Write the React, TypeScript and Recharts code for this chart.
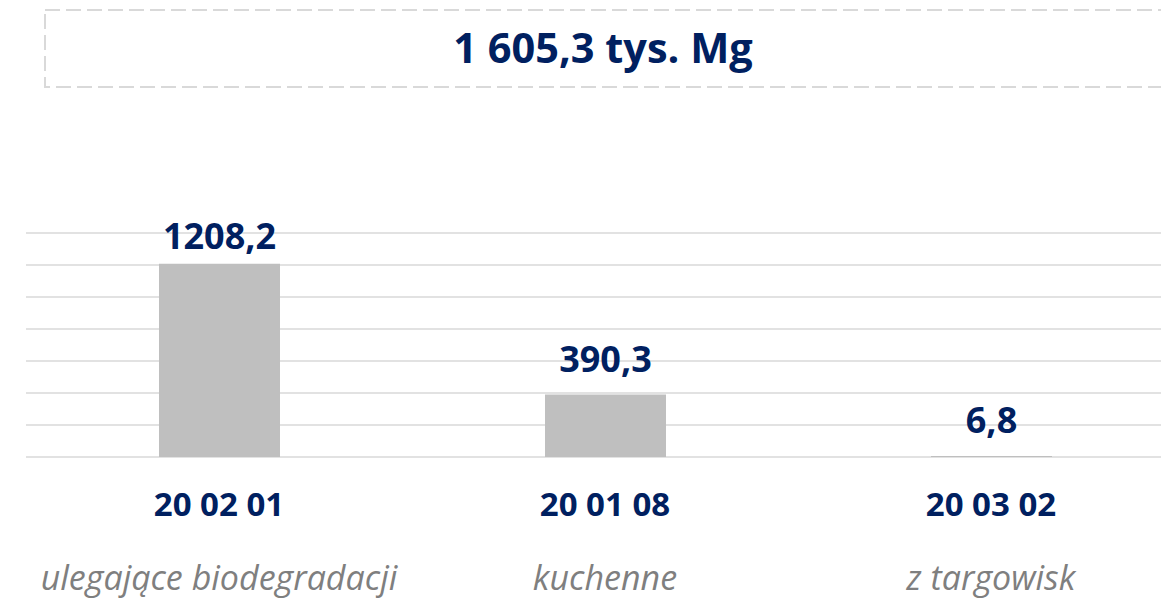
import React from "react";
import { BarChart, Bar, XAxis, YAxis, CartesianGrid, LabelList } from "recharts";

const codes = ["20 02 01", "20 01 08", "20 03 02"];
const names = ["ulegające biodegradacji", "kuchenne", "z targowisk"];
const values = [1208.2, 390.3, 6.8];
const yTicks = [0, 200, 400, 600, 800, 1000, 1200, 1400];
const totalLabel = "1 605,3 tys. Mg";

const data = codes.map((code, i) => ({ code, name: names[i], value: values[i] }));

const NAVY = "#002060";
const FONT = "'Open Sans', sans-serif";
const PLOT_TOP = 233;

const fmt = (v: number) => v.toFixed(1).replace(".", ",");

function CategoryTick(props: any) {
    const { x, y, payload, index } = props;
    return (
        <g>
            <text x={x} y={y + 51} textAnchor="middle" fill={NAVY} fontFamily={FONT} fontWeight={700} fontSize={33}>
                {payload.value}
            </text>
            <text x={x} y={y + 125} textAnchor="middle" fill="#7f7f7f" fontFamily={FONT} fontStyle="italic" fontSize={34}>
                {names[index]}
            </text>
        </g>
    );
}

function ValueLabel(props: any) {
    const { x, y, width, value } = props;
    // keep label inside the plot area, like the original
    const base = Math.max(y - 23, PLOT_TOP + 16);
    return (
        <text x={x + width / 2} y={base} textAnchor="middle" fill={NAVY} fontFamily={FONT} fontWeight={700} fontSize={36}>
            {fmt(value)}
        </text>
    );
}

export default function App() {
    return (
        <div style={{ position: "fixed", left: 0, top: 0, width: 1161, height: 601, overflow: "hidden", background: "#fff" }}>
            <svg width={1161} height={100} style={{ position: "absolute", left: 0, top: 0 }}>
                <rect x={45} y={10} width={1140} height={77} fill="none" stroke="#d9d9d9" strokeWidth={2} strokeDasharray="15 6" />
                <text x={603} y={63} textAnchor="middle" fill={NAVY} fontFamily={FONT} fontWeight={700} fontSize={41.5}>
                    {totalLabel}
                </text>
            </svg>
            <div style={{ position: "absolute", left: 0, top: 0 }}>
                <BarChart width={1200} height={601} data={data} margin={{ top: PLOT_TOP, right: 16, left: 26, bottom: 0 }}>
                    <CartesianGrid horizontal vertical={false} stroke="#d9d9d9" strokeWidth={1.5} />
                    <YAxis hide domain={[0, 1400]} ticks={yTicks} />
                    <XAxis dataKey="code" height={144} axisLine={false} tickLine={false} tick={<CategoryTick />} interval={0} />
                    <Bar dataKey="value" fill="#bfbfbf" barSize={121} isAnimationActive={false}>
                        <LabelList dataKey="value" content={<ValueLabel />} />
                    </Bar>
                </BarChart>
            </div>
        </div>
    );
}
